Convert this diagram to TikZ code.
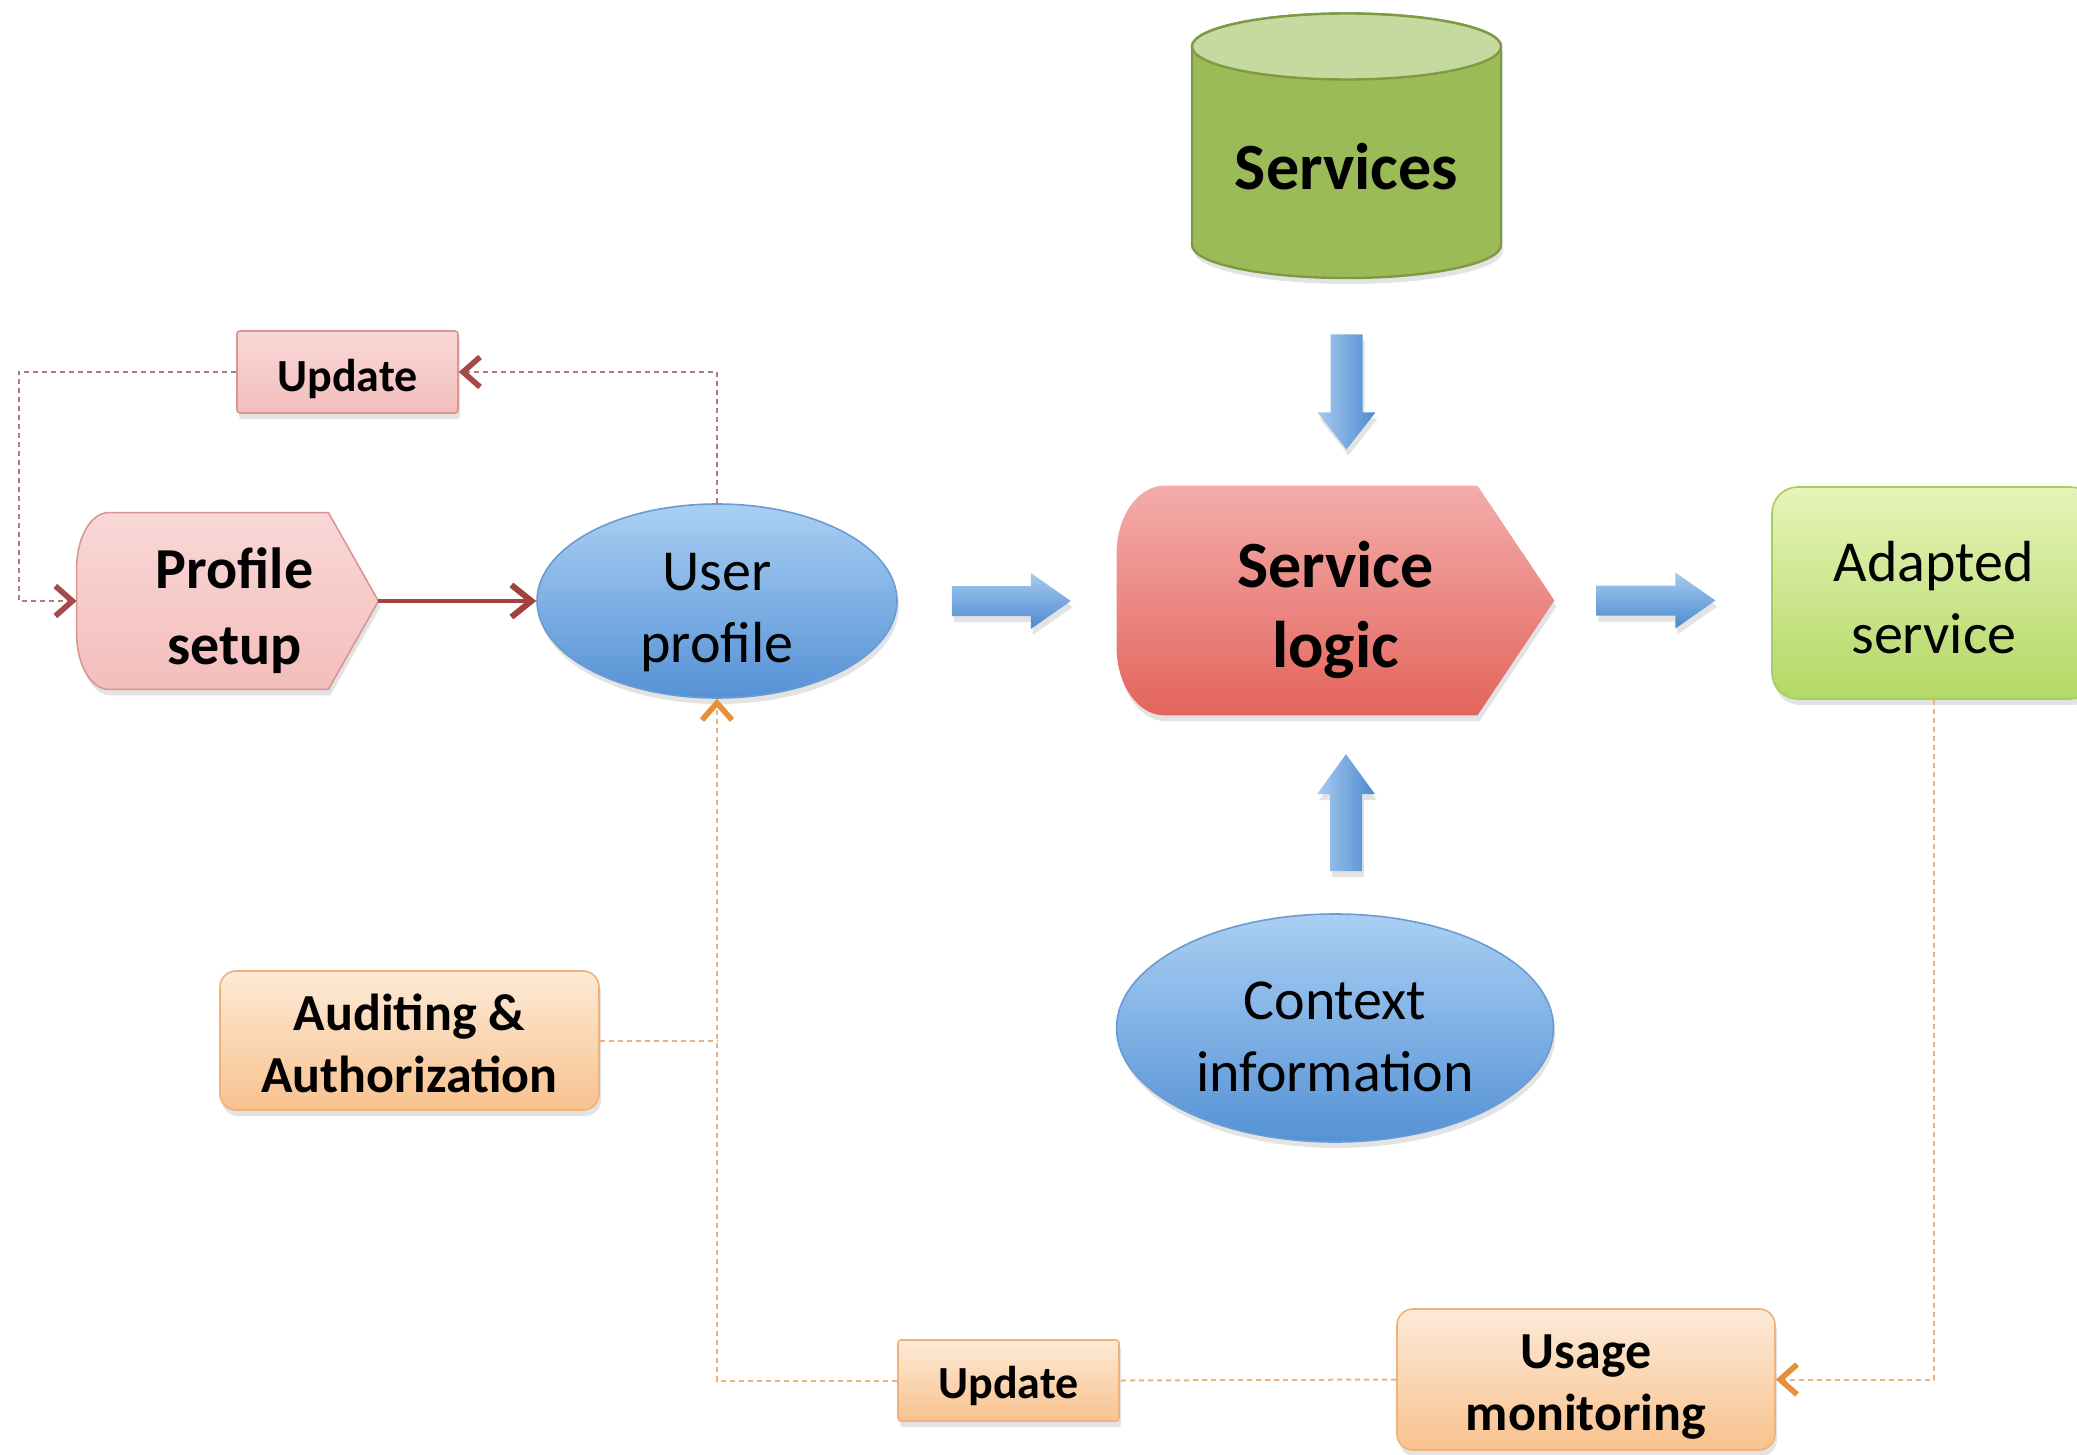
\documentclass[tikz,border=0pt]{standalone}
\usepackage{fontspec}
\setmainfont{Carlito}
\usetikzlibrary{arrows.meta,shadows,calc,backgrounds,shapes.geometric}

\definecolor{cylBody}{HTML}{9BBB59}
\definecolor{cylEdge}{HTML}{7C9B43}
\definecolor{cylTop}{HTML}{C6DAA0}
\definecolor{logicTop}{HTML}{F3ADAA}
\definecolor{logicBot}{HTML}{E4645C}
\definecolor{pinkTop}{HTML}{F9D8D7}
\definecolor{pinkBot}{HTML}{F3BEBC}
\definecolor{pinkEdge}{HTML}{D99694}
\definecolor{blueTop}{HTML}{AACFF3}
\definecolor{blueBot}{HTML}{5592D6}
\definecolor{blueEdge}{HTML}{6A9BD2}
\definecolor{greenTop}{HTML}{E6F4B8}
\definecolor{greenBot}{HTML}{B3D866}
\definecolor{greenEdge}{HTML}{A9CC62}
\definecolor{peachTop}{HTML}{FDEAD7}
\definecolor{peachBot}{HTML}{F8C28E}
\definecolor{peachEdge}{HTML}{EFB27A}
\definecolor{arrowLight}{HTML}{A7CAEF}
\definecolor{arrowDark}{HTML}{4C8AD0}
\definecolor{loopRed}{HTML}{B47A79}
\definecolor{tipRed}{HTML}{A5494A}
\definecolor{solidRed}{HTML}{A3413F}
\definecolor{loopOrange}{HTML}{EBB382}
\definecolor{tipOrange}{HTML}{E6913A}

\tikzset{
  lbl/.style={inner sep=0pt, align=center, text=black},
  shapeonly/.style={inner sep=0pt},
  fbig/.style={font=\fontsize{33}{40}\selectfont\bfseries},
  fmid/.style={font=\fontsize{29}{36}\selectfont},
  fmidb/.style={font=\fontsize{29}{38}\selectfont\bfseries},
  fbox/.style={font=\fontsize{26}{31}\selectfont\bfseries},
  fupd/.style={font=\fontsize{23}{28}\selectfont\bfseries},
  softshadow/.style={drop shadow={shadow xshift=1pt, shadow yshift=-3pt, opacity=0.22}},
  bluebubble/.style={shapeonly, ellipse, top color=blueTop, bottom color=blueBot,
    draw=blueEdge, line width=0.8pt, softshadow},
  peachbox/.style={shapeonly, rectangle, rounded corners=8pt, top color=peachTop,
    bottom color=peachBot, draw=peachEdge, line width=0.8pt, softshadow},
  hblock/.style={top color=arrowLight, bottom color=arrowDark, softshadow},
  vblock/.style={left color=arrowLight, right color=arrowDark, softshadow},
  loopline/.style={draw=loopRed, line width=1pt, dash pattern=on 2.5pt off 2pt},
  orangeline/.style={draw=loopOrange, line width=1pt, dash pattern=on 2.5pt off 2pt},
  barbred/.style={-{Straight Barb[length=8.5pt, width=15pt, line width=2.8pt, color=tipRed]}},
  barborange/.style={-{Straight Barb[length=8.5pt, width=15pt, line width=2.8pt, color=tipOrange]}},
}

\begin{document}
\begin{tikzpicture}[x=0.5pt, y=-0.5pt]
\useasboundingbox (0,0) rectangle (2077,1455);

% ---- shapes that carry the connectors ----
\node[lbl, fbig, minimum width=154.5pt, minimum height=110pt] (services) at (1346.5,167) {Services};
\node[shapeonly, minimum width=218.5pt, minimum height=114.5pt] (logic) at (1335.5,600.5) {};
\node[shapeonly, minimum width=150.5pt, minimum height=88pt] (profile) at (227.5,601) {};
\node[bluebubble, minimum width=180pt, minimum height=97pt] (user) at (717,601) {};
\node[bluebubble, minimum width=218.5pt, minimum height=114pt] (context) at (1335,1028) {};
\node[shapeonly, rectangle, rounded corners=13pt, top color=greenTop, bottom color=greenBot,
  draw=greenEdge, line width=0.8pt, softshadow, minimum width=162pt, minimum height=106pt]
  (adapted) at (1934,593) {};
\node[shapeonly, rectangle, rounded corners=1.5pt, top color=pinkTop, bottom color=pinkBot,
  draw=pinkEdge, line width=0.8pt, softshadow, minimum width=110.5pt, minimum height=41pt]
  (upd1) at (347.5,372) {};
\node[peachbox, minimum width=189.5pt, minimum height=69.5pt] (audit) at (409.5,1040.5) {};
\node[peachbox, rounded corners=1.5pt, minimum width=110.5pt, minimum height=40.5pt] (upd2) at (1008.5,1380.5) {};
\node[peachbox, minimum width=189pt, minimum height=70.5pt] (usage) at (1586,1379.5) {};

% ---- texts ----
\node[lbl, fbig] (logictext) at ($(logic)+(0,9)$) {Service\\logic};
\node[lbl, fmidb] (profiletext) at ($(profile)+(7,10)$) {Profile\\setup};
\node[lbl, fmid] (usertext) at ($(user)+(0,12)$) {User\\profile};
\node[lbl, fmid] (contexttext) at ($(context)+(0,9)$) {Context\\information};
\node[lbl, fmid] (adaptedtext) at ($(adapted)+(0,5)$) {Adapted\\service};
\node[lbl, fupd] (upd1text) at ($(upd1)+(0,7)$) {Update};
\node[lbl, fbox] (audittext) at ($(audit)+(0,3)$) {Auditing \&\\Authorization};
\node[lbl, fupd] (upd2text) at ($(upd2)+(0,5)$) {Update};
\node[lbl, fbox] (usagetext) at ($(usage)+(0,8)$) {Usage\\monitoring};

% ---- drawn shapes behind the texts ----
\begin{scope}[on background layer]
  \fill[white] (0,0) rectangle (2077,1455);
  % services store
  \path[fill=cylBody, draw=cylEdge, line width=1.2pt, softshadow]
    (1192,46.5) -- (1192,245) arc[start angle=180, end angle=360, x radius=77.25pt, y radius=16.5pt]
    -- (1501,46.5) arc[start angle=0, end angle=180, x radius=77.25pt, y radius=16.5pt] -- cycle;
  \path[fill=cylTop, draw=cylEdge, line width=1.2pt]
    (1346.5,46.5) ellipse[x radius=77.25pt, y radius=16.5pt];
  % service logic pentagon
  \path[top color=logicTop, bottom color=logicBot, softshadow]
    (logic.east) -- ($(logic.north east)+(-77,0)$) -- ($(logic.north west)+(48,0)$)
    arc[start angle=90, end angle=180, x radius=24pt, y radius=34pt]
    -- ($(logic.south west)+(0,-68)$)
    arc[start angle=180, end angle=270, x radius=24pt, y radius=34pt]
    -- ($(logic.south east)+(-77,0)$) -- cycle;
  % profile setup pentagon
  \path[top color=pinkTop, bottom color=pinkBot, draw=pinkEdge, line width=0.8pt, softshadow]
    (profile.east) -- ($(profile.north east)+(-50,0)$) -- ($(profile.north west)+(32,0)$)
    arc[start angle=90, end angle=180, x radius=16pt, y radius=28pt]
    -- ($(profile.south west)+(0,-56)$)
    arc[start angle=180, end angle=270, x radius=16pt, y radius=28pt]
    -- ($(profile.south east)+(-50,0)$) -- cycle;
\end{scope}

% ---- block arrows into and out of the service logic ----
\path[vblock] ($(services.south)+(-16,57)$) -- ++(32,0) -- ++(0,78) -- ++(13,0)
  -- ++(-29,37) -- ++(-29,-37) -- ++(13,0) -- cycle;
\path[vblock] ($(context.north)+(-5,-42)$) -- ++(32,0) -- ++(0,-77) -- ++(13,0)
  -- ++(-29,-40) -- ++(-29,40) -- ++(13,0) -- cycle;
\path[hblock] ($(user.east)+(54,-15)$) -- ++(79,0) -- ++(0,-13) -- ++(40,28)
  -- ++(-40,28) -- ++(0,-13) -- ++(-79,0) -- cycle;
\path[hblock] ($(logic.east)+(42,-15)$) -- ++(79,0) -- ++(0,-13) -- ++(40,28)
  -- ++(-40,28) -- ++(0,-13) -- ++(-79,0) -- cycle;

% ---- connectors ----
\draw[solidRed, line width=2.4pt, -{Straight Barb[length=10pt, width=16pt, line width=3pt]}]
  (profile.east) -- (user.west);

\coordinate (loopL) at ($(profile.west)+(-58,0)$);
\draw[loopline, barbred] (user.north) |- (upd1.east);
\draw[loopline, barbred] (upd1.west) -| (loopL) -- (profile.west);

\draw[orangeline] (audit.east) -- (audit.east -| user.south);
\draw[orangeline, barborange] (upd2.west) -| (user.south);
\draw[orangeline] (usage.west) -- (upd2.east);
\draw[orangeline, barborange] (adapted.south) |- (usage.east);
\end{tikzpicture}
\end{document}
